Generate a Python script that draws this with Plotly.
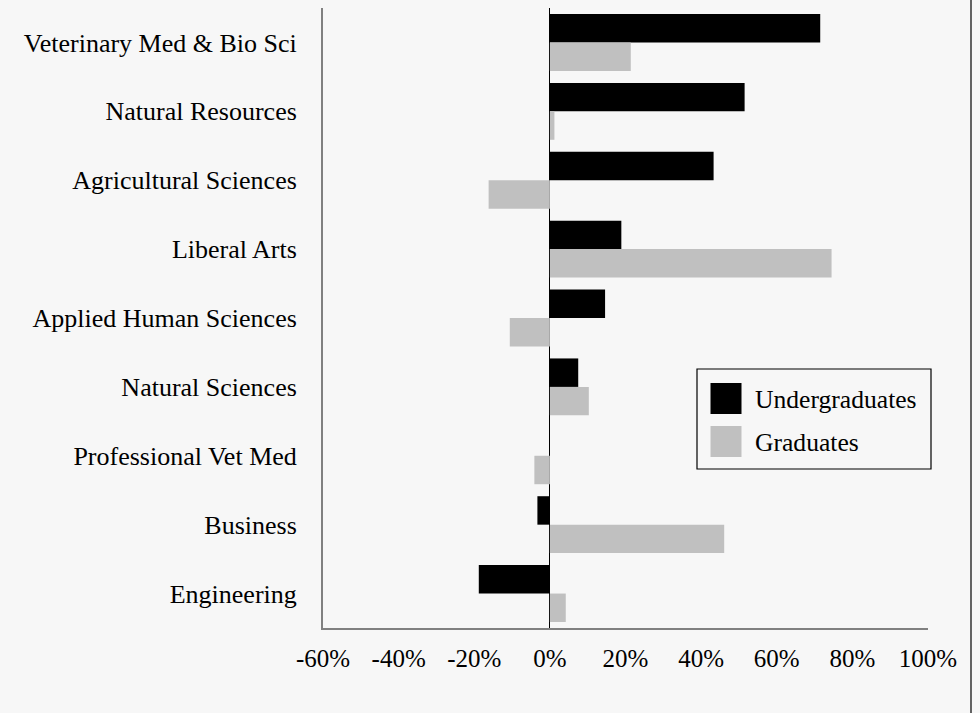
import plotly.graph_objects as go

colleges = [
    "Veterinary Med & Bio Sci",
    "Natural Resources",
    "Agricultural Sciences",
    "Liberal Arts",
    "Applied Human Sciences",
    "Natural Sciences",
    "Professional Vet Med",
    "Business",
    "Engineering",
]
undergrad = [71.5, 51.5, 43.3, 18.9, 14.6, 7.5, 0.0, -3.3, -18.8]
grad = [21.4, 1.2, -16.2, 74.5, -10.6, 10.3, -4.1, 46.1, 4.2]
series_names = ["Undergraduates", "Graduates"]
series_colors = ["#000000", "#c0c0c0"]
x_ticks = [-60, -40, -20, 0, 20, 40, 60, 80, 100]
x_tick_labels = [f"{v}%" for v in x_ticks]

FONT = "Liberation Serif, Times New Roman, serif"
BG = "#f7f7f7"

fig = go.Figure()
for name, vals, col in zip(series_names, [undergrad, grad], series_colors):
    fig.add_trace(go.Bar(
        y=colleges, x=vals, name=name, orientation="h",
        marker=dict(color=col, line=dict(width=0)),
        showlegend=False,
    ))

# plot area in pixels: x 323..928, y 8..628
L, R, T, B = 323, 928, 8, 628
W, H = 980, 713
pw, ph = R - L, B - T

def px(x):
    return (x - L) / pw

def py(y):
    return (B - y) / ph

shapes = [
    # legend box
    dict(type="rect", xref="paper", yref="paper",
         x0=px(697), x1=px(931), y0=py(469), y1=py(369),
         line=dict(color="#000000", width=1.2), fillcolor=BG, layer="above"),
    # legend swatches
    dict(type="rect", xref="paper", yref="paper",
         x0=px(710.5), x1=px(741.5), y0=py(414), y1=py(383),
         line=dict(width=0), fillcolor=series_colors[0], layer="above"),
    dict(type="rect", xref="paper", yref="paper",
         x0=px(710.5), x1=px(741.5), y0=py(457), y1=py(426),
         line=dict(width=0), fillcolor=series_colors[1], layer="above"),
    # right border of frame
    dict(type="line", xref="paper", yref="paper",
         x0=px(971), x1=px(971), y0=py(H), y1=py(0),
         line=dict(color="#000000", width=1.2)),
]
annotations = [
    dict(xref="paper", yref="paper", x=px(753), y=py(399), text=series_names[0],
         showarrow=False, xanchor="left", yanchor="middle",
         font=dict(family=FONT, size=25.6, color="#000000")),
    dict(xref="paper", yref="paper", x=px(753), y=py(442), text=series_names[1],
         showarrow=False, xanchor="left", yanchor="middle",
         font=dict(family=FONT, size=25.6, color="#000000")),
]

fig.update_layout(
    width=W, height=H,
    margin=dict(l=L, r=W - R, t=T, b=H - B, pad=0),
    paper_bgcolor=BG, plot_bgcolor=BG,
    barmode="group", bargap=0.174, bargroupgap=0,
    font=dict(family=FONT, size=25, color="#000000"),
    shapes=shapes, annotations=annotations,
    xaxis=dict(
        range=[-60, 100], tickvals=x_ticks, ticktext=x_tick_labels,
        showgrid=False, zeroline=True, zerolinecolor="#000000", zerolinewidth=1.3,
        showline=True, linecolor="#808080", linewidth=2, ticks="",
        tickfont=dict(family=FONT, size=25), ticklabelstandoff=7,
        fixedrange=True,
    ),
    yaxis=dict(
        autorange="reversed", showgrid=False, zeroline=False,
        showline=True, linecolor="#808080", linewidth=2, ticks="",
        tickfont=dict(family=FONT, size=26), ticklabelstandoff=19,
        fixedrange=True,
    ),
)

fig.write_html(
    "out.html",
    config={"displayModeBar": False},
    post_script="document.body.style.margin='0';document.body.style.background='#f7f7f7';",
)
